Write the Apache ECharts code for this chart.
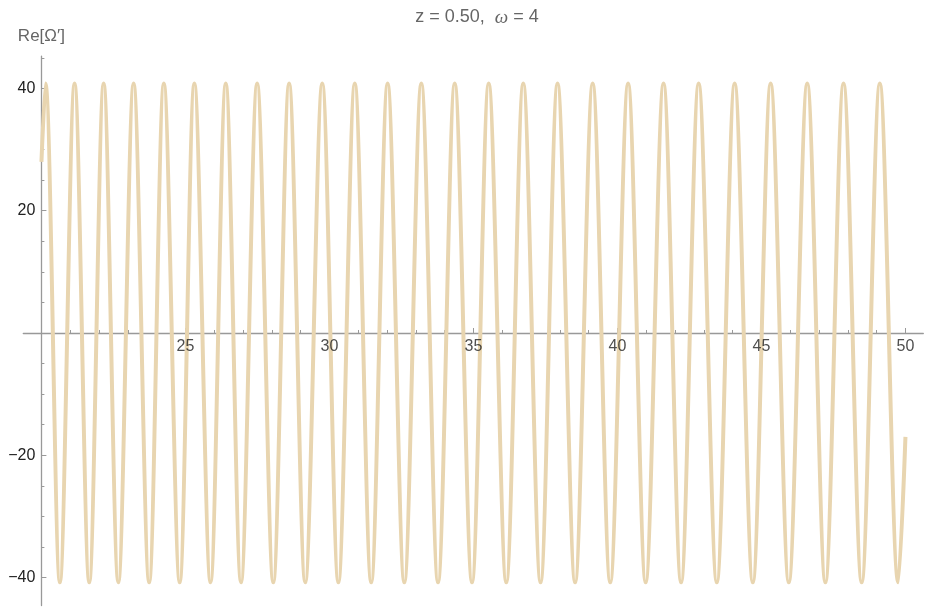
<!DOCTYPE html>
<html lang="en">
<head>
<meta charset="UTF-8">
<title>Re[Ω′] chart</title>
<script src="https://cdn.jsdelivr.net/npm/echarts@6/dist/echarts.min.js"></script>
<style>
  html, body { margin: 0; padding: 0; background: #fff; }
  #chart { width: 934px; height: 608px; }
</style>
</head>
<body>
<div id="chart"></div>
<script>
// curve: start, alternating peaks / troughs, end
var curveX = [
  20.00, 20.14, 20.64, 21.15, 21.66, 22.16, 22.67, 23.20, 23.74, 24.25,
  24.80, 25.31, 25.87, 26.40, 26.93, 27.49, 28.05, 28.60, 29.16, 29.75,
  30.31, 30.88, 31.45, 32.02, 32.60, 33.19, 33.77, 34.35, 34.95, 35.53,
  36.14, 36.73, 37.33, 37.92, 38.53, 39.14, 39.75, 40.37, 40.98, 41.60,
  42.21, 42.82, 43.45, 44.07, 44.70, 45.32, 45.95, 46.59, 47.22, 47.85,
  48.48, 49.11, 49.75, 50.00
];
var curveY = [
  28, 40.8, -40.8, 40.8, -40.8, 40.8, -40.8, 40.8, -40.8, 40.8,
  -40.8, 40.8, -40.8, 40.8, -40.8, 40.8, -40.8, 40.8, -40.8, 40.8,
  -40.8, 40.8, -40.8, 40.8, -40.8, 40.8, -40.8, 40.8, -40.8, 40.8,
  -40.8, 40.8, -40.8, 40.8, -40.8, 40.8, -40.8, 40.8, -40.8, 40.8,
  -40.8, 40.8, -40.8, 40.8, -40.8, 40.8, -40.8, 40.8, -40.8, 40.8,
  -40.8, 40.8, -40.8, -17
];

var xMajor = [25, 30, 35, 40, 45, 50];
var xMinor = [21, 22, 23, 24, 26, 27, 28, 29, 31, 32, 33, 34, 36, 37, 38, 39,
              41, 42, 43, 44, 46, 47, 48, 49];
var yMajor = [-40, -20, 20, 40];
var yMinor = [-35, -30, -25, -15, -10, -5, 5, 10, 15, 25, 30, 35, 45];

var seriesData = [];
for (var i = 0; i < curveX.length; i++) {
  seriesData.push([curveX[i], curveY[i]]);
}
// x tick labels sit on the zero line, so they ride on points at y = 0
var xLabelData = xMajor.map(function (v) { return [v, 0]; });

var X_MIN = 19.37, X_MAX = 50.62;
var Y_MIN = -44.6, Y_MAX = 45.3;
var AXIS_SHIFT = -18.1;   // y axis sits at x = 20, not at the left end of the x axis
var axisColor = '#999';
var FONT = 'Liberation Sans, Arial, sans-serif';

var chart = echarts.init(document.getElementById('chart'), null, { renderer: 'canvas' });

var option = {
  animation: false,
  backgroundColor: '#fff',
  title: {
    text: '{a|z = 0.50,  }{b|ω}{a| = 4}',
    left: 472,
    top: 3,
    textAlign: 'center',
    textStyle: {
      fontWeight: 'normal',
      rich: {
        a: { color: '#666', fontSize: 18, fontWeight: 'normal', fontFamily: FONT },
        b: { color: '#666', fontSize: 19, fontWeight: 'normal', fontStyle: 'italic', fontFamily: 'Liberation Serif, serif' }
      }
    }
  },
  grid: { left: 23.3, right: 10.7, top: 56.1, bottom: 2.4, containLabel: false, outerBoundsMode: 'none' },
  xAxis: [{
    type: 'value',
    position: 'bottom',
    min: X_MIN, max: X_MAX,
    splitLine: { show: false },
    axisLine: { onZero: true, lineStyle: { color: axisColor, width: 1.3 } },
    axisTick: { inside: true, length: 5, customValues: xMajor, lineStyle: { color: axisColor } },
    axisLabel: { show: false }
  }, {
    type: 'value',
    position: 'bottom',
    min: X_MIN, max: X_MAX,
    splitLine: { show: false },
    axisLine: { onZero: true, lineStyle: { color: axisColor, opacity: 0 } },
    axisTick: { inside: true, length: 3, customValues: xMinor, lineStyle: { color: axisColor } },
    axisLabel: { show: false }
  }],
  yAxis: [{
    type: 'value',
    position: 'left',
    offset: AXIS_SHIFT,
    min: Y_MIN, max: Y_MAX,
    name: 'Re[Ω′]',
    nameLocation: 'end',
    nameGap: 11,
    nameTextStyle: { color: '#666', fontSize: 17, fontFamily: FONT, align: 'center' },
    splitLine: { show: false },
    axisLine: { onZero: false, lineStyle: { color: axisColor, width: 1.3 } },
    axisTick: { inside: true, length: 5, customValues: yMajor, lineStyle: { color: axisColor } },
    axisLabel: {
      customValues: yMajor,
      margin: 6,
      color: '#222',
      fontSize: 16,
      fontFamily: FONT,
      formatter: function (v) { return v < 0 ? '\u2212' + Math.abs(v) : String(v); }
    }
  }, {
    type: 'value',
    position: 'left',
    offset: AXIS_SHIFT,
    min: Y_MIN, max: Y_MAX,
    splitLine: { show: false },
    axisLine: { onZero: false, lineStyle: { color: axisColor, opacity: 0 } },
    axisTick: { inside: true, length: 3, customValues: yMinor, lineStyle: { color: axisColor } },
    axisLabel: { show: false }
  }],
  series: [{
    type: 'line',
    xAxisIndex: 0,
    yAxisIndex: 0,
    data: seriesData,
    smooth: 0.33,
    symbol: 'none',
    clip: false,
    lineStyle: { color: '#e8d5b0', width: 4 },
    z: 3
  }, {
    type: 'scatter',
    xAxisIndex: 0,
    yAxisIndex: 0,
    data: xLabelData,
    symbolSize: 0,
    silent: true,
    z: 4,
    label: {
      show: true,
      position: 'bottom',
      distance: 6,
      color: '#222',
      fontSize: 16,
      fontFamily: FONT,
      formatter: function (p) { return String(p.value[0]); }
    }
  }]
};

chart.setOption(option);
</script>
</body>
</html>
